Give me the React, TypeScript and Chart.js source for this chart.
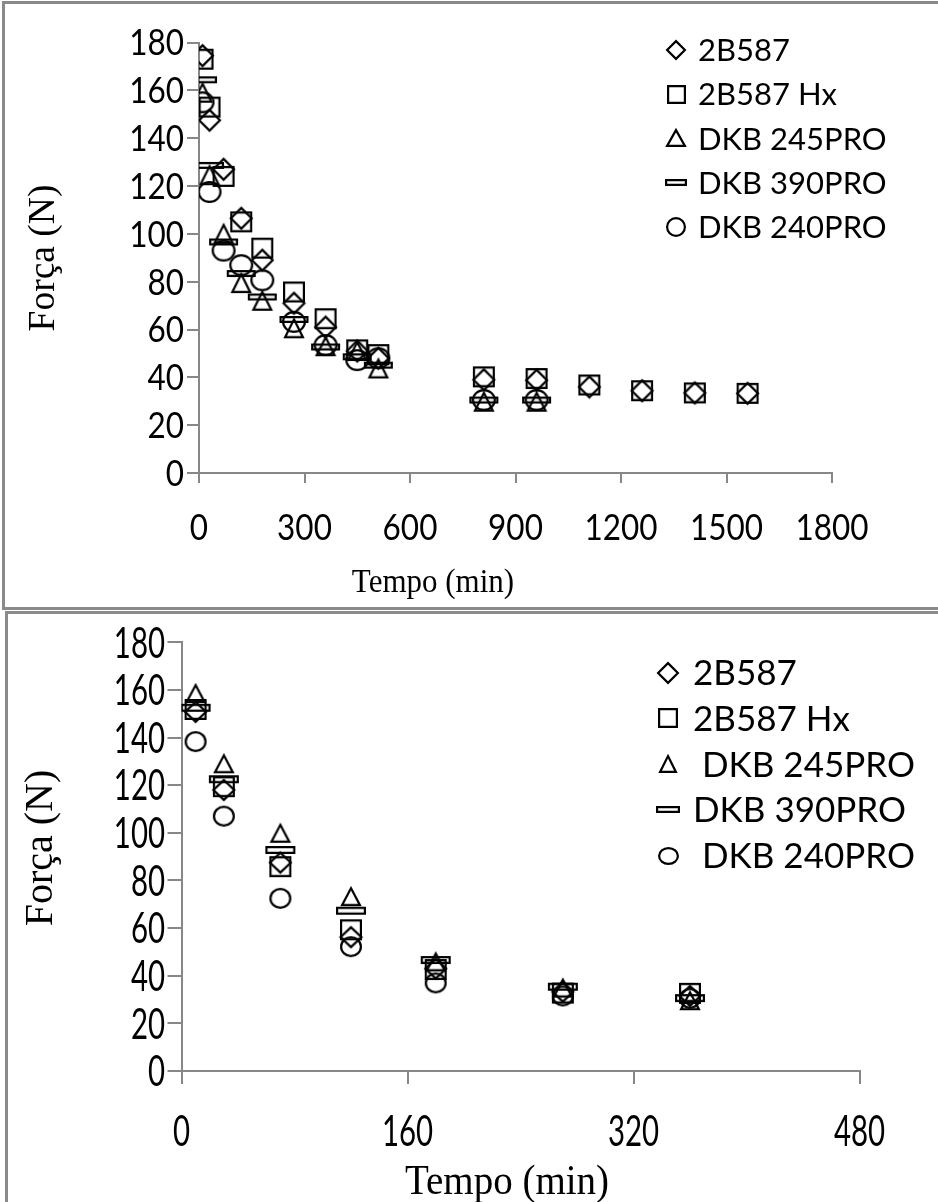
import React, { useEffect, useRef } from "react";
import { Chart, registerables } from "chart.js";

Chart.register(...registerables);

// ---------- data ----------
const topSeriesLabels = ["2B587", "2B587 Hx", "DKB 245PRO", "DKB 390PRO", "DKB 240PRO"];
const botSeriesLabels = ["2B587", "2B587 Hx", " DKB 245PRO", "DKB 390PRO", " DKB 240PRO"];
const seriesMarkers = ["diamond", "square", "triangle", "bar", "circle"];

// Top chart (long test)
const topTimeLong = [10, 30, 70, 120, 180, 270, 360, 450, 510, 810, 960, 1110, 1260, 1410, 1560];
const topTimeShort = [10, 30, 70, 120, 180, 270, 360, 450, 510, 810, 960];
const top2B587 = [174.5, 147.5, 127, 106.5, 89, 71, 61, 51, 48, 39, 38.8, 36, 34.4, 33.5, 33.3];
const top2B587Hx = [173, 153, 124, 105, 94, 75.7, 64.5, 51.5, 49.5, 40.2, 39.5, 36.8, 34.4, 33.5, 33.3];
const topDKB245 = [159, 124.5, 100, 79.4, 72, 60.5, 53, 51, 43.7, 29.8, 29.8];
const topDKB390 = [164.4, 128.6, 96.6, 83.4, 73.6, 64.2, 52.7, 48.6, 45.1, 30.5, 30.5];
const topDKB240 = [155, 117.5, 93, 86.9, 80.6, 63.2, 53.5, 47.2, 48, 30.5, 30.5];
const topXTicks = [0, 300, 600, 900, 1200, 1500, 1800];
const topYTicks = [0, 20, 40, 60, 80, 100, 120, 140, 160, 180];
const topXTitle = "Tempo (min)";
const topYTitle = "Força (N)";

// Bottom chart (short test)
const botTime = [10, 30, 70, 120, 180, 270, 360];
const bot2B587 = [150.8, 118, 87.5, 56.2, 43, 33.3, 31.5];
const bot2B587Hx = [151.8, 119.4, 85.8, 59.3, 42.6, 32.7, 32.6];
const botDKB245 = [158.5, 129, 99.8, 73.2, 45.8, 34.8, 29.5];
const botDKB390 = [152.5, 122.5, 92.8, 67.3, 46.6, 35.4, 30.6];
const botDKB240 = [138.3, 107, 72.5, 52.2, 37, 31.5, 30.5];
const botXTicks = [0, 160, 320, 480];
const botYTicks = [0, 20, 40, 60, 80, 100, 120, 140, 160, 180];
const botXTitle = "Tempo (min)";
const botYTitle = "Força (N)";

// ---------- helpers ----------
type Size = [number, number];
const SANS = "Lato";
const SERIF = "'Liberation Serif', 'Times New Roman', serif";
const CAP = 0.7165;

function makeMarker(kind: string, size: Size, lw = 2.2): HTMLCanvasElement {
  const [w, h] = size;
  const m = 3;
  const c = document.createElement("canvas");
  c.width = Math.round(w + 2 * m);
  c.height = Math.round(h + 2 * m);
  const ctx = c.getContext("2d")!;
  ctx.strokeStyle = "#000";
  ctx.lineWidth = lw;
  ctx.lineJoin = "miter";
  const i = lw / 2;
  const L = (c.width - w) / 2 + i;
  const T = (c.height - h) / 2 + i;
  const R = L + w - lw;
  const B = T + h - lw;
  const cx = (L + R) / 2;
  const cy = (T + B) / 2;
  ctx.beginPath();
  if (kind === "diamond") {
    ctx.moveTo(cx, T);
    ctx.lineTo(R, cy);
    ctx.lineTo(cx, B);
    ctx.lineTo(L, cy);
    ctx.closePath();
  } else if (kind === "square" || kind === "bar") {
    ctx.rect(L, T, R - L, B - T);
  } else if (kind === "triangle") {
    ctx.moveTo(cx, T);
    ctx.lineTo(R, B);
    ctx.lineTo(L, B);
    ctx.closePath();
  } else {
    ctx.ellipse(cx, cy, (R - L) / 2, (B - T) / 2, 0, 0, Math.PI * 2);
  }
  ctx.stroke();
  return c;
}

function makeLegendPlugin(cfg: {
  markers: HTMLCanvasElement[];
  markerX: number;
  textX: number;
  y0: number;
  step: number;
  fontSize: number;
}) {
  return {
    id: "cornerLegend",
    afterDraw(chart: any) {
      const ctx = chart.ctx as CanvasRenderingContext2D;
      ctx.save();
      ctx.font = `${cfg.fontSize}px ${SANS}`;
      ctx.fillStyle = "#000";
      ctx.textAlign = "left";
      ctx.textBaseline = "alphabetic";
      const capHalf = (cfg.fontSize * CAP) / 2;
      chart.data.datasets.forEach((ds: any, i: number) => {
        const y = cfg.y0 + i * cfg.step;
        const img = cfg.markers[i];
        ctx.drawImage(img, Math.round(cfg.markerX - img.width / 2), Math.round(y - img.height / 2));
        ctx.fillText(ds.label, cfg.textX, y + capHalf);
      });
      ctx.restore();
    },
  };
}

// draws tick labels and axis titles (font is slightly stretched like the original)
function makeAxisTextPlugin(cfg: {
  xTicks: number[];
  yTicks: number[];
  tickSize: number;
  tickSx: number;
  tickSy: number;
  xLabelCy: number;
  yLabelRight: number;
  xTitle: string;
  xTitleCx: number;
  xTitleCy: number;
  xTitleSize: number;
  xTitleSy: number;
  yTitle: string;
  yTitleCx: number;
  yTitleCy: number;
  yTitleSize: number;
}) {
  const drawText = (
    ctx: CanvasRenderingContext2D,
    text: string,
    x: number,
    y: number,
    align: CanvasTextAlign,
    font: string,
    size: number,
    sx: number,
    sy: number,
    rot = 0,
    capRatio = CAP
  ) => {
    ctx.save();
    ctx.translate(x, y);
    if (rot) ctx.rotate(rot);
    ctx.scale(sx, sy);
    ctx.font = `${size}px ${font}`;
    ctx.textAlign = align;
    ctx.textBaseline = "alphabetic";
    ctx.fillStyle = "#000";
    ctx.fillText(text, 0, (size * capRatio) / 2);
    ctx.restore();
  };
  return {
    id: "axisText",
    afterDraw(chart: any) {
      const ctx = chart.ctx as CanvasRenderingContext2D;
      const xs = chart.scales.x;
      const ys = chart.scales.y;
      cfg.xTicks.forEach((v) => {
        drawText(ctx, String(v), xs.getPixelForValue(v), cfg.xLabelCy, "center", SANS, cfg.tickSize, cfg.tickSx, cfg.tickSy);
      });
      cfg.yTicks.forEach((v) => {
        drawText(ctx, String(v), cfg.yLabelRight, ys.getPixelForValue(v), "right", SANS, cfg.tickSize, cfg.tickSx, cfg.tickSy);
      });
      drawText(ctx, cfg.xTitle, cfg.xTitleCx, cfg.xTitleCy, "center", SERIF, cfg.xTitleSize, 1, cfg.xTitleSy, 0, 0.66);
      drawText(ctx, cfg.yTitle, cfg.yTitleCx, cfg.yTitleCy, "center", SERIF, cfg.yTitleSize, 1, 1, -Math.PI / 2, 0.5);
    },
  };
}

const AXIS_GRAY = "#878787";

function axisCommon(ticksArr: number[], fit: (s: any) => void, tickLength: number) {
  return {
    type: "linear",
    min: ticksArr[0],
    max: ticksArr[ticksArr.length - 1],
    afterBuildTicks: (s: any) => {
      s.ticks = ticksArr.map((v) => ({ value: v }));
    },
    afterFit: fit,
    grid: {
      display: true,
      drawOnChartArea: false,
      drawTicks: true,
      tickLength,
      color: AXIS_GRAY,
      lineWidth: 2,
    },
    border: { display: true, color: AXIS_GRAY, width: 2 },
    ticks: { display: false, autoSkip: false },
    title: { display: false },
  };
}

function ChartCanvas({ build, left, top, width, height }: any) {
  const ref = useRef<HTMLCanvasElement>(null);
  useEffect(() => {
    const chart = new Chart(ref.current!, build());
    return () => chart.destroy();
  }, []);
  return (
    <canvas
      ref={ref}
      width={width}
      height={height}
      style={{ position: "absolute", left, top, width, height }}
    />
  );
}

function buildTop() {
  const plotSizes: Size[] = [[23, 23], [22, 21], [20, 20], [29, 7], [24, 22]];
  const legendSizes: Size[] = [[20, 20], [19, 19], [20, 18], [22, 7], [20, 20]];
  const xs = [topTimeLong, topTimeLong, topTimeShort, topTimeShort, topTimeShort];
  const ys = [top2B587, top2B587Hx, topDKB245, topDKB390, topDKB240];
  const datasets = topSeriesLabels.map((label, i) => ({
    label,
    data: xs[i].map((x, j) => ({ x, y: ys[i][j] })),
    pointStyle: makeMarker(seriesMarkers[i], plotSizes[i]),
    pointRadius: 10,
    showLine: false,
  }));
  const H = 607;
  return {
    type: "scatter",
    data: { datasets },
    options: {
      animation: false,
      responsive: false,
      devicePixelRatio: 1,
      layout: { padding: { left: 0, top: 42.5, right: 106, bottom: 0 } },
      plugins: { legend: { display: false }, tooltip: { enabled: false } },
      scales: {
        x: axisCommon(topXTicks, (s: any) => { s.height = H - 473; }, 10),
        y: axisCommon(topYTicks, (s: any) => { s.width = 199; }, 12),
      },
    },
    plugins: [
      makeAxisTextPlugin({
        xTicks: topXTicks,
        yTicks: topYTicks,
        tickSize: 30,
        tickSx: 1.05,
        tickSy: 1.2,
        xLabelCy: 527,
        yLabelRight: 184,
        xTitle: topXTitle,
        xTitleCx: 433,
        xTitleCy: 581,
        xTitleSize: 31,
        xTitleSy: 1.1,
        yTitle: topYTitle,
        yTitleCx: 45,
        yTitleCy: 258,
        yTitleSize: 37.5,
      }),
      makeLegendPlugin({
        markers: seriesMarkers.map((k, i) => makeMarker(k, legendSizes[i])),
        markerX: 676,
        textX: 698,
        y0: 50,
        step: 44.2,
        fontSize: 31,
      }),
    ],
  };
}

function buildBottom() {
  const plotSizes: Size[] = [[23, 22], [22, 21], [20, 19], [30, 8], [22, 21]];
  const legendSizes: Size[] = [[22, 22], [20, 20], [18, 18], [24, 7], [21, 18]];
  const ys = [bot2B587, bot2B587Hx, botDKB245, botDKB390, botDKB240];
  const datasets = botSeriesLabels.map((label, i) => ({
    label,
    data: botTime.map((x, j) => ({ x, y: ys[i][j] })),
    pointStyle: makeMarker(seriesMarkers[i], plotSizes[i]),
    pointRadius: 10,
    showLine: false,
  }));
  const H = 590;
  const off = 612;
  return {
    type: "scatter",
    data: { datasets },
    options: {
      animation: false,
      responsive: false,
      devicePixelRatio: 1,
      layout: { padding: { left: 0, top: 30.3, right: 78.5, bottom: 0 } },
      plugins: { legend: { display: false }, tooltip: { enabled: false } },
      scales: {
        x: axisCommon(botXTicks, (s: any) => { s.height = H - 459; }, 13),
        y: axisCommon(botYTicks, (s: any) => { s.width = 181.5; }, 14),
      },
    },
    plugins: [
      makeAxisTextPlugin({
        xTicks: botXTicks,
        yTicks: botYTicks,
        tickSize: 30,
        tickSx: 0.98,
        tickSy: 1.42,
        xLabelCy: 1131 - off,
        yLabelRight: 165,
        xTitle: botXTitle,
        xTitleCx: 507,
        xTitleCy: 1180 - off,
        xTitleSize: 39,
        xTitleSy: 1.1,
        yTitle: botYTitle,
        yTitleCx: 42,
        yTitleCy: 848 - off,
        yTitleSize: 40,
      }),
      makeLegendPlugin({
        markers: seriesMarkers.map((k, i) => makeMarker(k, legendSizes[i])),
        markerX: 668,
        textX: 693,
        y0: 672.5 - off,
        step: 45.8,
        fontSize: 35,
      }),
    ],
  };
}

export default function App() {
  return (
    <div
      style={{
        position: "absolute",
        left: 0,
        top: 0,
        width: 938,
        height: 1202,
        overflow: "hidden",
        background: "#fff",
      }}
    >
      <div
        style={{
          position: "absolute",
          left: 2,
          top: 1,
          width: 960,
          height: 603,
          border: "3px solid #8a8a8a",
        }}
      />
      <div
        style={{
          position: "absolute",
          left: 5,
          top: 611,
          width: 960,
          height: 620,
          border: "3px solid #8a8a8a",
        }}
      />
      <ChartCanvas build={buildTop} left={0} top={0} width={938} height={607} />
      <ChartCanvas build={buildBottom} left={0} top={612} width={938} height={590} />
    </div>
  );
}
